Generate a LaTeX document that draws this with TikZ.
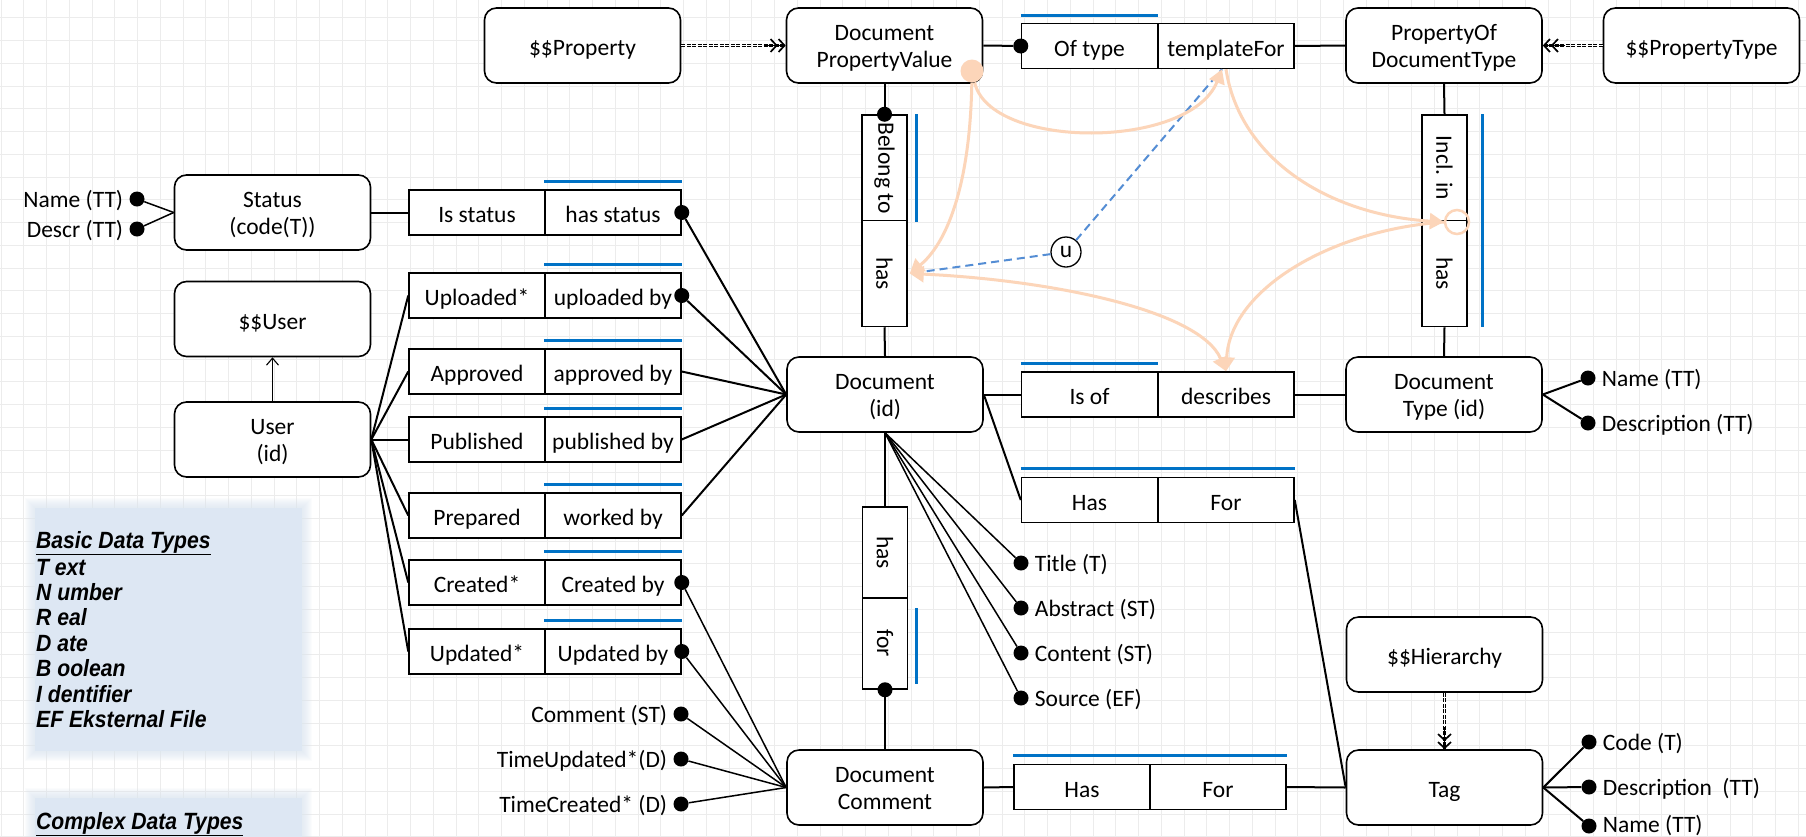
\documentclass[tikz,border=0pt]{standalone}
\usepackage{fontspec}
\setmainfont{Carlito}
\newfontfamily\dtfont[FakeStretch=0.9]{Liberation Sans}
\usetikzlibrary{arrows.meta,calc}

\definecolor{relblue}{RGB}{0,114,198}
\definecolor{dashblue}{RGB}{84,141,212}
\definecolor{peach}{RGB}{252,213,185}
\definecolor{panel}{RGB}{221,231,243}
\definecolor{gridgray}{RGB}{236,236,236}

\begin{document}
\begin{tikzpicture}[x=1pt, y=-1pt,
  every node/.style={font=\fontsize{23.5}{27}\selectfont},
  oneline/.style={text height=20pt, text depth=0pt},
  twoline/.style={text height=47pt, text depth=4pt},
  entity/.style={draw, line width=1.6pt, rounded corners=12pt, fill=white,
    minimum width=196pt, minimum height=75pt, inner sep=0pt, align=center, oneline},
  relcell/.style={draw, line width=1.5pt, fill=white, minimum width=136pt,
    minimum height=45pt, inner sep=0pt, oneline},
  vcell/.style={draw, line width=1.5pt, fill=white, minimum width=45pt,
    minimum height=106pt, inner sep=0pt},
  vcellshort/.style={vcell, minimum height=91pt},
  vlabel/.style={rotate=-90, inner sep=0pt},
  bdot/.style={circle, fill=black, minimum size=15pt, inner sep=0pt},
  conn/.style={line width=2pt},
  attrline/.style={line width=1.5pt},
  bluebar/.style={draw=relblue, line width=3pt},
  attrtext/.style={inner sep=0pt},
  dshaft/.style={line width=0.6pt, double distance=1.6pt, dash pattern=on 4pt off 1.5pt},
  dtips/.style={line width=1.7pt,
    -{Straight Barb[length=6pt,width=13pt] Straight Barb[length=6pt,width=13pt]}},
  isaarrow/.style={line width=1.1pt, -{Straight Barb[length=7pt,width=12pt]}},
  peachline/.style={draw=peach, line width=3pt},
  peachtip/.style={-{Triangle[length=14pt,width=16pt]}},
  udash/.style={draw=dashblue, line width=2pt, dash pattern=on 8pt off 5pt},
  gridline/.style={draw=gridgray, line width=1pt},
  dttext/.style={font=\dtfont\bfseries\itshape\fontsize{23.5}{25}\selectfont,
    inner sep=0pt, anchor=base west},
]
\useasboundingbox (0,0) rectangle (1806,836);
\clip (0,0) rectangle (1806,836);
\fill[white] (0,0) rectangle (1806,836);

% background grid
\foreach \i in {0,...,79} \draw[gridline] ({1+\i*22.75},0) -- ({1+\i*22.75},836);
\foreach \j in {0,...,36} \draw[gridline] (0,{17.75+\j*22.75}) -- (1806,{17.75+\j*22.75});

% data type panels with soft edges
\foreach \k in {1,...,10} {
  \fill[panel, fill opacity=0.1] ({35-\k},{508-\k}) rectangle ({302+\k},{751+\k});
  \fill[panel, fill opacity=0.1] ({35-\k},{798-\k}) rectangle ({302+\k},{860});
}
\fill[panel] (35,508) rectangle (302,751);
\fill[panel] (35,798) rectangle (302,860);

\node[dttext] (dt0) at (36,548) {\underline{Basic Data Types}};
\node[dttext] (dt1) at (36,575) {T ext};
\node[dttext] (dt2) at (36,600.4) {N umber};
\node[dttext] (dt3) at (36,625.8) {R eal};
\node[dttext] (dt4) at (36,651.2) {D ate};
\node[dttext] (dt5) at (36,676.6) {B oolean};
\node[dttext] (dt6) at (36,702) {I dentifier};
\node[dttext] (dt7) at (36,727.4) {EF Eksternal File};
\node[dttext] (ct0) at (36,829) {\underline{Complex Data Types}};

% entities
\node[entity] (prop)  at (582.5,45.5)  {\$\$Property};
\node[entity, twoline] (dpv)   at (884.5,45.5)  {Document\\PropertyValue};
\node[entity, twoline] (podt)  at (1444,45.5)   {PropertyOf\\DocumentType};
\node[entity] (ptype) at (1701.5,45.5) {\$\$PropertyType};
\node[entity, twoline] (status) at (272.5,212.5) {Status\\(code(T))};
\node[entity] (suser) at (272.5,319)   {\$\$User};
\node[entity, twoline] (user)  at (272.5,439.5) {User\\(id)};
\node[entity, twoline] (doc)   at (885,394.5)   {Document\\(id)};
\node[entity, twoline] (dtype) at (1444,394.5)  {Document\\Type (id)};
\node[entity] (hier)  at (1444.5,654.5) {\$\$Hierarchy};
\node[entity] (tag)   at (1444.5,787.5) {Tag};
\node[entity, twoline] (dcom)  at (885,787.5)   {Document\\Comment};

% relationship cells, left column
\node[relcell] (sL)  at (477,212.5) {Is status};
\node[relcell] (sR)  at (613,212.5) {has status};
\node[relcell] (upL) at (477,295.5) {Uploaded*};
\node[relcell] (upR) at (613,295.5) {uploaded by};
\node[relcell] (apL) at (477,371.5) {Approved};
\node[relcell] (apR) at (613,371.5) {approved by};
\node[relcell] (puL) at (477,439.5) {Published};
\node[relcell] (puR) at (613,439.5) {published by};
\node[relcell] (prL) at (477,515.5) {Prepared};
\node[relcell] (prR) at (613,515.5) {worked by};
\node[relcell] (crL) at (477,582.5) {Created*};
\node[relcell] (crR) at (613,582.5) {Created by};
\node[relcell] (udL) at (477,651.5) {Updated*};
\node[relcell] (udR) at (613,651.5) {Updated by};

% relationship cells, right side
\node[relcell] (oftL)  at (1089.5,46)   {Of type};
\node[relcell] (oftR)  at (1226,46)     {templateFor};
\node[relcell] (isofL) at (1089.5,394.5) {Is of};
\node[relcell] (isofR) at (1226,394.5)  {describes};
\node[relcell] (hf1L)  at (1089.5,500)  {Has};
\node[relcell] (hf1R)  at (1226,500)    {For};
\node[relcell] (hf2L)  at (1082,787)    {Has};
\node[relcell] (hf2R)  at (1218,787)    {For};

% vertical relationship cells
\node[vcell] (belT)  at (884.5,168)   {};
\node[vcell] (belB)  at (884.5,273.5) {};
\node[vcell] (inclT) at (1444.5,168)  {};
\node[vcell] (inclB) at (1444.5,273.5) {};
\node[vcellshort] (hasV) at (885,552.5) {};
\node[vcellshort] (forV) at (885,643.5) {};
\node[vlabel] (belTl)  at (belT)  {Belong to};
\node[vlabel] (belBl)  at (belB)  {has};
\node[vlabel] (inclTl) at (inclT) {Incl. in};
\node[vlabel] (inclBl) at (inclB) {has};
\node[vlabel] (hasVl)  at (hasV)  {has};
\node[vlabel] (forVl)  at (forV)  {for};

% blue role bars
\foreach \c in {sR,upR,apR,puR,prR,crR,udR}
  \draw[bluebar] ($(\c.north west)+(0,-8)$) -- ($(\c.north east)+(0,-8)$);
\draw[bluebar] ($(oftL.north west)+(0,-7)$) -- ($(oftL.north east)+(0,-7)$);
\draw[bluebar] ($(isofL.north west)+(0,-8)$) -- ($(isofL.north east)+(0,-8)$);
\draw[bluebar] ($(hf1L.north west)+(0,-8)$) -- ($(hf1R.north east)+(0,-8)$);
\draw[bluebar] ($(hf2L.north west)+(0,-8)$) -- ($(hf2R.north east)+(0,-8)$);
\draw[bluebar] ($(belT.north east)+(9,0)$) -- ($(belT.south east)+(9,0)$);
\draw[bluebar] ($(inclT.north east)+(15,0)$) -- ($(inclB.south east)+(15,0)$);
\draw[bluebar] ($(forV.north east)+(8,11)$) -- ($(forV.south east)+(8,-6)$);

% role dots
\node[bdot] (dS)   at (sR.east) {};
\node[bdot] (dUp)  at (upR.east) {};
\node[bdot] (dCr)  at (crR.east) {};
\node[bdot] (dUd)  at (udR.east) {};
\node[bdot] (dOf)  at (oftL.west) {};
\node[bdot] (dBel) at (belT.north) {};
\node[bdot] (dFor) at (forV.south) {};

% attribute dots and labels
\node[bdot] (sa1) at (137,199) {};
\node[bdot] (sa2) at (137,229) {};
\node[attrtext, anchor=east] (sa1t) at ($(sa1.west)+(-6,2)$) {Name (TT)};
\node[attrtext, anchor=east] (sa2t) at ($(sa2.west)+(-6,2)$) {Descr (TT)};

\node[bdot] (at1) at (1021,563) {};
\node[bdot] (at2) at (1021,608) {};
\node[bdot] (at3) at (1021,653) {};
\node[bdot] (at4) at (1021,698) {};
\node[attrtext, anchor=west] (at1t) at ($(at1.east)+(6,2)$) {Title (T)};
\node[attrtext, anchor=west] (at2t) at ($(at2.east)+(6,2)$) {Abstract (ST)};
\node[attrtext, anchor=west] (at3t) at ($(at3.east)+(6,2)$) {Content (ST)};
\node[attrtext, anchor=west] (at4t) at ($(at4.east)+(6,2)$) {Source (EF)};

\node[bdot] (cm1) at (681,714) {};
\node[bdot] (cm2) at (681,759) {};
\node[bdot] (cm3) at (681,804) {};
\node[attrtext, anchor=east] (cm1t) at ($(cm1.west)+(-6,2)$) {Comment (ST)};
\node[attrtext, anchor=east] (cm2t) at ($(cm2.west)+(-6,2)$) {TimeUpdated*(D)};
\node[attrtext, anchor=east] (cm3t) at ($(cm3.west)+(-6,2)$) {TimeCreated* (D)};

\node[bdot] (ta1) at (1588,378) {};
\node[bdot] (ta2) at (1588,423) {};
\node[attrtext, anchor=west] (ta1t) at ($(ta1.east)+(6,2)$) {Name (TT)};
\node[attrtext, anchor=west] (ta2t) at ($(ta2.east)+(6,2)$) {Description (TT)};

\node[bdot] (tg1) at (1589,742) {};
\node[bdot] (tg2) at (1589,787) {};
\node[bdot] (tg3) at (1589,826) {};
\node[attrtext, anchor=west] (tg1t) at ($(tg1.east)+(6,2)$) {Code (T)};
\node[attrtext, anchor=west] (tg2t) at ($(tg2.east)+(6,2)$) {Description\ \ (TT)};
\node[attrtext, anchor=west] (tg3t) at ($(tg3.east)+(6,0)$) {Name (TT)};

% connectors
\draw[attrline] (sa1) -- (status.west);
\draw[attrline] (sa2) -- (status.west);
\draw[conn] (status.east) -- (sL.west);
\draw[isaarrow] (user.north) -- (suser.south);
\foreach \c in {upL,apL,puL,prL,crL,udL} \draw[conn] (user.east) -- (\c.west);
\draw[conn] (dS) -- (doc.west);
\draw[conn] (dUp) -- (doc.west);
\draw[conn] (apR.east) -- (doc.west);
\draw[conn] (puR.east) -- (doc.west);
\draw[conn] (prR.east) -- (doc.west);
\foreach \c in {dCr,dUd,cm1,cm2,cm3} \draw[attrline] (\c) -- (dcom.west);
\foreach \c in {at1,at2,at3,at4} \draw[attrline] (doc.south) -- (\c);
\draw[conn] (doc.south) -- (hasV.north);
\draw[conn] (dFor) -- (dcom.north);
\draw[conn] (dcom.east) -- (hf2L.west);
\draw[conn] (hf2R.east) -- (tag.west);
\draw[conn] (doc.east) -- (isofL.west);
\draw[conn] (isofR.east) -- (dtype.west);
\draw[conn] (doc.east) -- (hf1L.west);
\draw[conn] (hf1R.east) -- (tag.west);
\draw[conn] (dtype.east) -- (ta1);
\draw[conn] (dtype.east) -- (ta2);
\foreach \c in {tg1,tg2,tg3} \draw[conn] (tag.east) -- (\c);
\draw[conn] (dpv.east) -- (dOf);
\draw[conn] (oftR.east) -- (podt.west);
\draw[conn] (dpv.south) -- (dBel);
\draw[conn] (belB.south) -- (doc.north);
\draw[conn] (podt.south) -- (inclT.north);
\draw[conn] (inclB.south) -- (dtype.north);

% supertype links (double dashed)
\draw[dshaft] (prop.east) -- (dpv.west);
\draw[dtips] ($(dpv.west)+(-22,0)$) -- (dpv.west);
\draw[dshaft] (ptype.west) -- (podt.east);
\draw[dtips] ($(podt.east)+(22,0)$) -- (podt.east);
\draw[dshaft] (hier.south) -- (tag.north);
\draw[dtips] ($(tag.north)+(0,-22)$) -- (tag.north);

% uniqueness constraint
\coordinate (hasR) at ($(belB.east)+(2,0)$);
\coordinate (tfB) at ($(oftR.south)+(-4,0)$);
\node[circle, draw, line width=1.3pt, fill=white, minimum size=30pt, inner sep=0pt] (u) at (1066,252) {u};
\draw[udash] (u) -- (hasR);
\draw[udash] (u) -- (tfB);

% join path constraint
\node[circle, fill=peach, minimum size=23pt, inner sep=0pt] (pvdot) at (972,71) {};
\node[circle, draw=peach, line width=2.5pt, minimum size=24pt, inner sep=0pt] (ocirc) at (1457,222) {};
\coordinate (descT) at (isofR.north);
\draw[peachline, peachtip] (pvdot) .. controls (970,190) and (945,245) .. (hasR);
\draw[peachline, peachtip] (pvdot) .. controls (990,150) and (1190,150) .. (tfB);
\draw[peachline, peachtip] (oftR.south) .. controls (1240,160) and (1330,215) .. (ocirc.west);
\draw[peachline, peachtip] (ocirc.west) .. controls (1330,230) and (1230,290) .. (descT);
\draw[peachline, {Triangle[length=14pt,width=16pt]}-{Triangle[length=14pt,width=16pt]}] (hasR) .. controls (1050,280) and (1200,310) .. (descT);
\end{tikzpicture}
\end{document}
